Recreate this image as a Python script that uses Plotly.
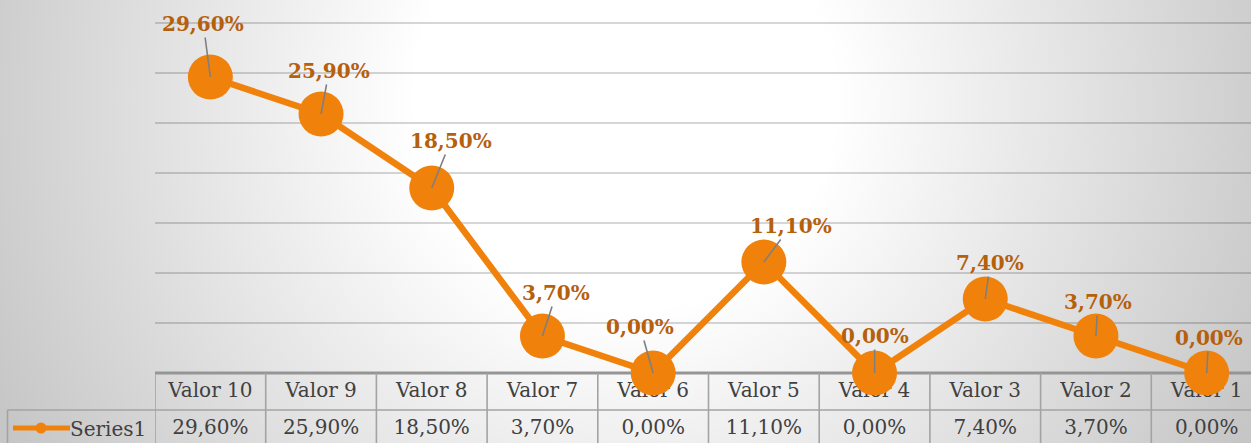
import base64
import plotly.graph_objects as go

# ---------------- data ----------------
categories = ["Valor 10", "Valor 9", "Valor 8", "Valor 7", "Valor 6",
              "Valor 5", "Valor 4", "Valor 3", "Valor 2", "Valor 1"]
values = [29.6, 25.9, 18.5, 3.7, 0.0, 11.1, 0.0, 7.4, 3.7, 0.0]
series_name = "Series1"
grid_ticks = [5, 10, 15, 20, 25, 30, 35]

# label offsets (pixels) of the data labels relative to their points
label_dx = [-7, 8, 19, 14, -13, 27, 0, 5, 2, 2]
label_dy = [-53, -43, -47, -43, -46, -36, -37, -36, -34, -35]


def fmt(v):
    return f"{v:.2f}".replace(".", ",") + "%"


labels = [fmt(v) for v in values]

# ---------------- geometry ----------------
W, H = 1251, 443
ML, MR, MT, MB = 155, 0, 21, 0
PW, PH = W - ML - MR, H - MT - MB
CELL = 110.7
x_hi = -0.5 + PW / CELL
ZERO_PX = 373          # pixel row of value 0
PX_PER_UNIT = 10.0     # pixels per percentage point
Y_MAX = (ZERO_PX - MT) / PX_PER_UNIT
Y_MIN = -(H - ZERO_PX) / PX_PER_UNIT


def px_x(p):  # pixel -> paper x
    return (p - ML) / PW


def px_ydata(p):  # pixel -> data y
    return (ZERO_PX - p) / PX_PER_UNIT


ORANGE = "#F0820C"
LABEL_COL = "#B5600C"
TEXT_COL = "#404040"
LINE_COL = "#a3a3a3"

fig = go.Figure()

# table text (drawn below the series so markers cover it)
fig.add_trace(go.Scatter(
    x=categories, y=[px_ydata(392)] * len(categories),
    mode="text", text=categories, textposition="middle center",
    textfont=dict(family="DejaVu Serif", size=20, color=TEXT_COL),
    cliponaxis=False, hoverinfo="skip", showlegend=False))
fig.add_trace(go.Scatter(
    x=categories, y=[px_ydata(429)] * len(categories),
    mode="text", text=labels, textposition="middle center",
    textfont=dict(family="DejaVu Serif", size=20, color=TEXT_COL),
    cliponaxis=False, hoverinfo="skip", showlegend=False))

# series
fig.add_trace(go.Scatter(
    x=categories, y=values, mode="lines+markers", name=series_name,
    line=dict(color=ORANGE, width=6.5),
    marker=dict(size=45, color=ORANGE),
    cliponaxis=False, showlegend=False))

# data labels with leader lines
for c, v, t, dx, dy in zip(categories, values, labels, label_dx, label_dy):
    fig.add_annotation(
        x=c, y=v, text=t, showarrow=True, ax=dx, ay=dy,
        arrowhead=0, arrowwidth=1.6, arrowcolor="#7f7f7f", standoff=0,
        font=dict(family="DejaVu Serif", size=20, color=LABEL_COL, weight="bold"))

# series label in table
fig.add_annotation(x=px_x(148), y=px_ydata(429), xref="paper", yref="y",
                   text=series_name, showarrow=False, xanchor="right", yanchor="middle",
                   font=dict(family="DejaVu Serif", size=20, color=TEXT_COL))

shapes = []
yb = px_ydata(H + 5)
ysep = px_ydata(410)
# vertical cell borders
for i in range(len(categories) + 1):
    shapes.append(dict(type="line", xref="x", yref="y", x0=i - 0.5, x1=i - 0.5,
                       y0=0, y1=yb, line=dict(color=LINE_COL, width=1.6), layer="below"))
# left border of series cell
shapes.append(dict(type="line", xref="paper", yref="y", x0=px_x(7.5), x1=px_x(7.5),
                   y0=ysep, y1=yb, line=dict(color=LINE_COL, width=1.6), layer="below"))
# row separator
shapes.append(dict(type="line", xref="paper", yref="y", x0=px_x(7.5), x1=1,
                   y0=ysep, y1=ysep, line=dict(color=LINE_COL, width=1.6), layer="below"))
# axis line / table top
shapes.append(dict(type="line", xref="paper", yref="y", x0=0, x1=1,
                   y0=0, y1=0, line=dict(color="#959595", width=3), layer="below"))
# legend key
ky = px_ydata(428)
shapes.append(dict(type="line", xref="paper", yref="y", x0=px_x(13), x1=px_x(70),
                   y0=ky, y1=ky, line=dict(color=ORANGE, width=5), layer="above"))
shapes.append(dict(type="circle", xref="paper", yref="y",
                   x0=px_x(41 - 5.5), x1=px_x(41 + 5.5),
                   y0=px_ydata(428 + 5.5), y1=px_ydata(428 - 5.5),
                   fillcolor=ORANGE, line=dict(width=0), layer="above"))

# background radial gradient
svg = (f'<svg xmlns="http://www.w3.org/2000/svg" width="{W}" height="{H}" '
       f'viewBox="0 0 {W} {H}" preserveAspectRatio="none"><defs>'
       '<radialGradient id="g" gradientUnits="userSpaceOnUse" cx="625" cy="100" r="700">'
       '<stop offset="0" stop-color="#ffffff"/><stop offset="0.3" stop-color="#ffffff"/>'
       '<stop offset="1" stop-color="#c6c6c6"/></radialGradient></defs>'
       f'<rect width="{W}" height="{H}" fill="url(#g)"/></svg>')
src = "data:image/svg+xml;base64," + base64.b64encode(svg.encode()).decode()

fig.update_layout(
    width=W, height=H,
    margin=dict(l=ML, r=MR, t=MT, b=MB, pad=0),
    paper_bgcolor="#e6e6e6", plot_bgcolor="rgba(0,0,0,0)",
    shapes=shapes,
    images=[dict(source=src, xref="paper", yref="paper", x=px_x(0), y=1 + MT / PH,
                 sizex=W / PW, sizey=H / PH, xanchor="left", yanchor="top",
                 sizing="stretch", layer="below")],
    xaxis=dict(type="category", range=[-0.5, x_hi], showgrid=False, zeroline=False,
               showticklabels=False, showline=False, ticks=""),
    yaxis=dict(range=[Y_MIN, Y_MAX], tickmode="array", tickvals=grid_ticks,
               showgrid=True, gridcolor="rgba(0,0,0,0.16)",
               gridwidth=1.5, zeroline=False, showticklabels=False, showline=False, ticks=""),
    showlegend=False,
)

fig.write_html("out.html", config={"displayModeBar": False},
               post_script="document.body.style.margin='0';document.body.style.overflow='hidden';")
